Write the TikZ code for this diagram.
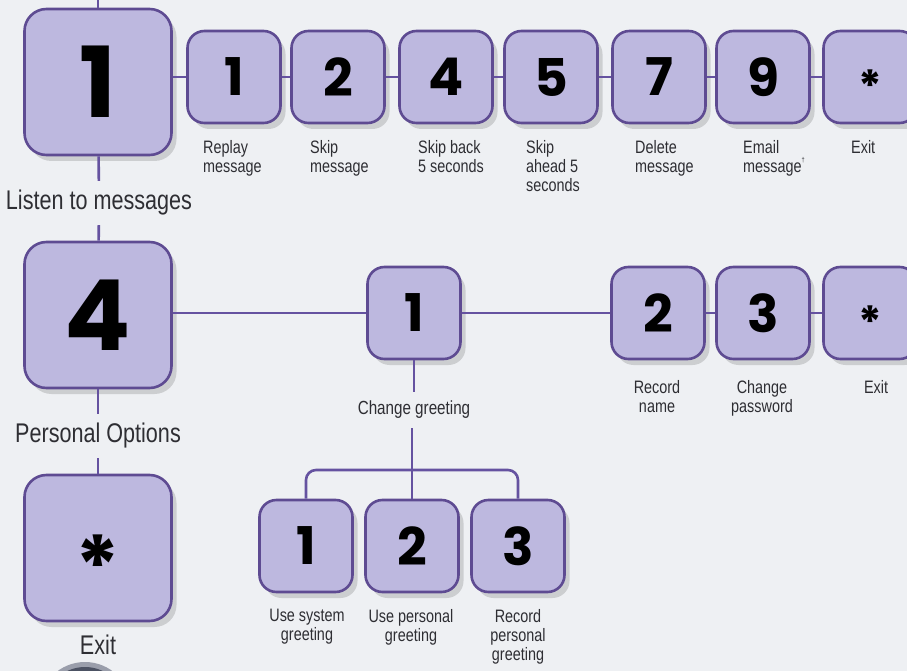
\documentclass[tikz,border=0pt]{standalone}
\usepackage{fontspec}
\usepackage{graphicx}
\setmainfont{Liberation Sans}
\newfontfamily\numfont{Poppins}
\newfontfamily\lblfont{Liberation Sans}[FakeStretch=0.8]
\usetikzlibrary{shadows}
\definecolor{boxfill}{HTML}{BDB8DF}
\definecolor{boxline}{HTML}{5E4B92}
\definecolor{connc}{HTML}{6552A0}
\definecolor{bgc}{HTML}{EEF0F3}
\definecolor{txtc}{HTML}{2E2E33}
\definecolor{knobdark}{HTML}{4C5263}
\definecolor{knobring}{HTML}{9A9EAB}
\tikzset{
  keybox/.style={draw=boxline, line width=2.6pt, fill=boxfill, rounded corners=17pt,
    minimum width=93pt, minimum height=92pt, inner sep=0pt,
    font=\numfont\bfseries\fontsize{52}{52}\selectfont,
    drop shadow={shadow xshift=5pt, shadow yshift=-6pt, opacity=0.14, fill=black}},
  bigbox/.style={keybox, minimum width=147pt, minimum height=146pt, rounded corners=22pt,
    font=\numfont\bfseries\fontsize{98}{98}\selectfont},
  conn/.style={draw=connc, line width=2.6pt},
  lbl/.style={font=\lblfont\fontsize{18}{19}\selectfont, text=txtc, inner sep=0pt, align=left, anchor=north west},
  clbl/.style={lbl, align=center, anchor=north},
  head/.style={font=\lblfont\fontsize{27}{27}\selectfont, text=txtc, inner sep=0pt, minimum height=44pt},
  smallhead/.style={head, minimum height=36pt, font=\lblfont\fontsize{19}{19}\selectfont}
}
\newcommand{\keyast}{\raisebox{-0.49em}[0pt][0pt]{\scalebox{0.85}{*}}}
\begin{document}
\begin{tikzpicture}[x=1pt,y=-1pt]
\useasboundingbox (0,0) rectangle (907,671);
\fill[bgc] (0,0) rectangle (907,671);
\begin{scope}
\clip (0,0) rectangle (907,671);
\fill[knobring] (85,708) circle (46);
\fill[knobdark] (85,708) circle (41);
\end{scope}

% main column
\node[bigbox] (B1) at (98,82) {1};
\node[head] (L1) at (99,203) {Listen to messages};
\node[bigbox] (B4) at (98,315) {4};
\node[head] (L4) at (98,436) {Personal Options};
\node[bigbox] (BS) at (98,548) {\keyast};
\node[head] (LS) at (98,645) {Exit};
\coordinate (top) at (98,0);

% row 1
\node[keybox] (s1) at (234,77) {1};
\node[keybox] (s2) at (338,77) {2};
\node[keybox] (s4) at (446,77) {4};
\node[keybox] (s5) at (551,77) {5};
\node[keybox] (s7) at (659,77) {7};
\node[keybox] (s9) at (763,77) {9};
\node[keybox] (sx) at (870,77) {\keyast};

\node[lbl] (t1) at (203,140) {Replay\\message};
\node[lbl] (t2) at (310,140) {Skip\\message};
\node[lbl] (t4) at (418,140) {Skip back\\5 seconds};
\node[lbl] (t5) at (526,140) {Skip\\ahead 5\\seconds};
\node[lbl] (t7) at (635,140) {Delete\\message};
\node[lbl] (t9) at (743,140) {Email\\message\raisebox{0.55em}{\fontsize{7}{7}\selectfont\textdagger}};
\node[lbl] (tx) at (851,140) {Exit};

% row 2
\node[keybox] (r1) at (414,313) {1};
\node[keybox] (r2) at (658,313) {2};
\node[keybox] (r3) at (763,313) {3};
\node[keybox] (rx) at (870,313) {\keyast};
\node[smallhead] (CG) at (414,410) {Change greeting};
\node[clbl] (u2) at (657,380) {Record\\name};
\node[clbl] (u3) at (762,380) {Change\\password};
\node[clbl] (ux) at (876,380) {Exit};

% greeting row
\node[keybox] (g1) at (306,546) {1};
\node[keybox] (g2) at (412,546) {2};
\node[keybox] (g3) at (518,546) {3};
\node[clbl] (v1) at (307,609) {Use system\\greeting};
\node[clbl] (v2) at (411,609) {Use personal\\greeting};
\node[clbl] (v3) at (518,609) {Record\\personal\\greeting};
\coordinate (bj) at (412,470);

% connectors
\draw[conn] (top) -- (B1);
\draw[conn] (B1) -- (L1);
\draw[conn] (L1) -- (B4);
\draw[conn] (B4) -- (L4);
\draw[conn] (L4) -- (BS);

\draw[conn] (B1.east |- s1.west) -- (s1.west);
\draw[conn] (s1) -- (s2);
\draw[conn] (s2) -- (s4);
\draw[conn] (s4) -- (s5);
\draw[conn] (s5) -- (s7);
\draw[conn] (s7) -- (s9);
\draw[conn] (s9) -- (sx);

\draw[conn] (B4.east |- r1.west) -- (r1.west);
\draw[conn] (r1) -- (r2);
\draw[conn] (r2) -- (r3);
\draw[conn] (r3) -- (rx);
\draw[conn] (r1.south) -- (r1.south |- CG.north);
\draw[conn] (g2.north |- CG.south) -- (g2.north);
\draw[conn, rounded corners=10pt] (g1.north) |- (bj) -| (g3.north);
\end{tikzpicture}
\end{document}
